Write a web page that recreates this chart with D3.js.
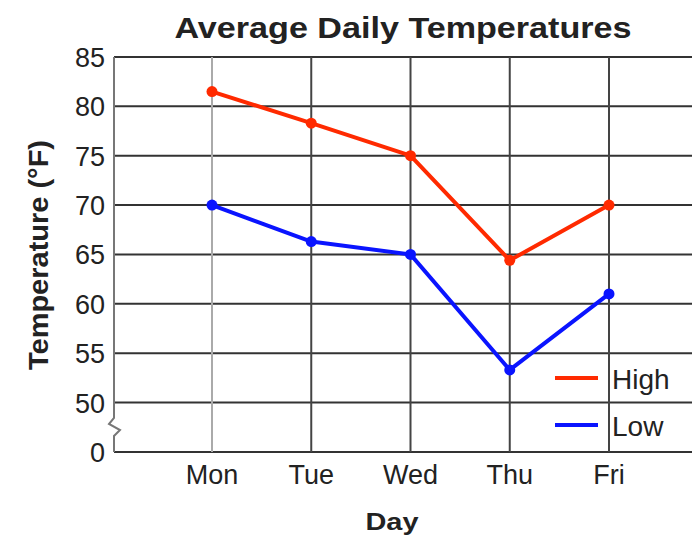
<!DOCTYPE html>
<html>
<head>
<meta charset="utf-8">
<script src="https://cdn.jsdelivr.net/npm/d3@7"></script>
<style>
  body { margin: 0; background: #fff; }
  text { font-family: "Liberation Sans", Arial, sans-serif; fill: #222; }
</style>
</head>
<body>
<script>
// chart data
var days = ["Mon", "Tue", "Wed", "Thu", "Fri"];
var highTemps = [81.5, 78.3, 75, 64.4, 70];
var lowTemps = [70, 66.3, 65, 53.3, 61];
var yTicks = [0, 50, 55, 60, 65, 70, 75, 80, 85];
var seriesNames = ["High", "Low"];
var seriesColors = ["#ff2a00", "#0a14ff"];

var width = 692, height = 538;

var svg = d3.select("body").append("svg")
  .attr("width", width)
  .attr("height", height);

// x positions of the days
var x = d3.scalePoint()
  .domain(days)
  .range([212, 609]);

// broken y axis: 0 sits one step under 50
var y = d3.scaleLinear()
  .domain([0, 50, 85])
  .range([452, 402.5, 57]);

var left = 114, right = 692;

// horizontal grid lines
svg.selectAll(".hgrid")
  .data(yTicks)
  .enter().append("line")
    .attr("x1", left)
    .attr("x2", right)
    .attr("y1", function(d){ return y(d); })
    .attr("y2", function(d){ return y(d); })
    .attr("stroke", "#333")
    .attr("stroke-width", 2);

// vertical grid lines (Mon is lighter)
svg.selectAll(".vgrid")
  .data(days)
  .enter().append("line")
    .attr("x1", function(d){ return x(d); })
    .attr("x2", function(d){ return x(d); })
    .attr("y1", y(85))
    .attr("y2", y(0))
    .attr("stroke", function(d, i){ return i == 0 ? "#aaa" : "#444"; })
    .attr("stroke-width", 2);

// left axis line with break
svg.append("path")
  .attr("d", "M" + left + "," + y(85) + "V418 L109,424 L120,430 L" + left + ",436 V" + y(0))
  .attr("fill", "none")
  .attr("stroke", "#777")
  .attr("stroke-width", 2);

// y tick labels
svg.selectAll(".ylab")
  .data(yTicks)
  .enter().append("text")
    .attr("x", 105)
    .attr("y", function(d){ return y(d) + 10; })
    .attr("text-anchor", "end")
    .attr("font-size", "27px")
    .text(function(d){ return d; });

// x tick labels
svg.selectAll(".xlab")
  .data(days)
  .enter().append("text")
    .attr("x", function(d){ return x(d); })
    .attr("y", 484)
    .attr("text-anchor", "middle")
    .attr("font-size", "27px")
    .text(function(d){ return d; });

// lines and dots
var line = d3.line()
  .x(function(d, i){ return x(days[i]); })
  .y(function(d){ return y(d); });

[highTemps, lowTemps].forEach(function(vals, k){
  svg.append("path")
    .attr("d", line(vals))
    .attr("fill", "none")
    .attr("stroke", seriesColors[k])
    .attr("stroke-width", 4)
    .attr("stroke-linejoin", "round");
  svg.selectAll(".dot" + k)
    .data(vals)
    .enter().append("circle")
      .attr("cx", function(d, i){ return x(days[i]); })
      .attr("cy", function(d){ return y(d); })
      .attr("r", 5.5)
      .attr("fill", seriesColors[k]);
});

// legend
seriesNames.forEach(function(name, k){
  var ly = 378 + k * 47;
  svg.append("line")
    .attr("x1", 555).attr("x2", 598)
    .attr("y1", ly).attr("y2", ly)
    .attr("stroke", seriesColors[k])
    .attr("stroke-width", 4);
  svg.append("text")
    .attr("x", 612)
    .attr("y", ly + 11)
    .attr("font-size", "28px")
    .text(name);
});

// title
svg.append("text")
  .attr("x", 403)
  .attr("y", 38)
  .attr("text-anchor", "middle")
  .attr("font-size", "30px")
  .attr("font-weight", "bold")
  .attr("textLength", 457)
  .attr("lengthAdjust", "spacingAndGlyphs")
  .text("Average Daily Temperatures");

// axis titles
svg.append("text")
  .attr("transform", "translate(48,255) rotate(-90)")
  .attr("text-anchor", "middle")
  .attr("font-size", "27px")
  .attr("font-weight", "bold")
  .attr("textLength", 230)
  .attr("lengthAdjust", "spacingAndGlyphs")
  .text("Temperature (°F)");

svg.append("text")
  .attr("x", 392)
  .attr("y", 530)
  .attr("text-anchor", "middle")
  .attr("font-size", "24px")
  .attr("font-weight", "bold")
  .attr("textLength", 53)
  .attr("lengthAdjust", "spacingAndGlyphs")
  .text("Day");
</script>
</body>
</html>
